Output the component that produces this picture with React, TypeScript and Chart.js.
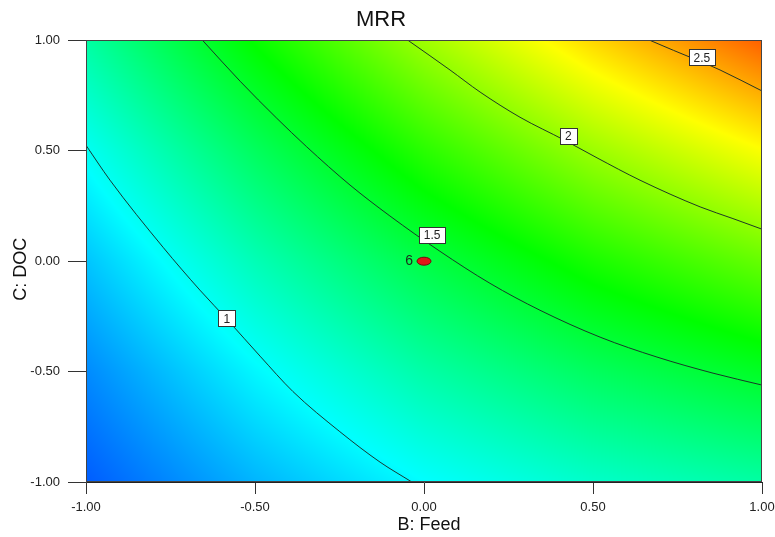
import React, { useEffect, useRef } from 'react';
import { Chart, registerables } from 'chart.js';

Chart.register(...registerables);

// ---- data ----
const gridX = [-1, -0.5, 0, 0.5, 1];
const gridY = [-1, -0.5, 0, 0.5, 1];
// MRR values, rows follow gridY (bottom to top), columns follow gridX
const mrrRowYm1 = [0.54, 0.77, 0.96, 1.10, 1.20];
const mrrRowYm05 = [0.66, 0.945, 1.19, 1.38, 1.53];
const mrrRowY0 = [0.81, 1.15, 1.44, 1.69, 1.89];
const mrrRowY05 = [0.99, 1.38, 1.73, 2.03, 2.28];
const mrrRowY1 = [1.20, 1.64, 2.04, 2.39, 2.70];

const contour1 = [
  { x: -1, y: 0.525 }, { x: -0.929, y: 0.367 }, { x: -0.772, y: 0.063 },
  { x: -0.663, y: -0.131 }, { x: -0.58, y: -0.268 },
  { x: -0.485, y: -0.43 }, { x: -0.388, y: -0.59 }, { x: -0.249, y: -0.772 },
  { x: -0.13, y: -0.91 }, { x: -0.036, y: -1 },
];
const contour15 = [
  { x: -0.655, y: 1 }, { x: -0.544, y: 0.815 }, { x: -0.436, y: 0.648 },
  { x: -0.347, y: 0.518 }, { x: -0.219, y: 0.345 }, { x: -0.101, y: 0.205 },
  { x: 0.047, y: 0.045 }, { x: 0.195, y: -0.1 }, { x: 0.343, y: -0.222 },
  { x: 0.521, y: -0.344 }, { x: 0.689, y: -0.434 }, { x: 0.855, y: -0.507 },
  { x: 1, y: -0.561 },
];
const contour2 = [
  { x: -0.047, y: 1 }, { x: 0.077, y: 0.866 }, { x: 0.166, y: 0.766 },
  { x: 0.284, y: 0.652 }, { x: 0.417, y: 0.547 }, { x: 0.512, y: 0.468 },
  { x: 0.639, y: 0.367 }, { x: 0.817, y: 0.246 }, { x: 0.914, y: 0.193 },
  { x: 1, y: 0.145 },
];
const contour25 = [
  { x: 0.669, y: 1 }, { x: 0.738, y: 0.955 }, { x: 0.822, y: 0.902 },
  { x: 0.876, y: 0.866 }, { x: 1, y: 0.771 },
];

const contourLabels = ['1', '1.5', '2', '2.5'];
const contourLabelX = [-0.583, 0.024, 0.427, 0.822];
const contourLabelY = [-0.259, 0.119, 0.568, 0.923];

const designPoints = [{ x: 0, y: 0 }];
const designCounts = ['6'];

const xTickValues = [-1, -0.5, 0, 0.5, 1];
const yTickValues = [-1, -0.5, 0, 0.5, 1];

const xAxisTitle = 'B: Feed';
const yAxisTitle = 'C: DOC';

// colour scale: blue -> cyan -> green -> yellow -> red
const colorStops = [
  [0, 0, 255],
  [0, 255, 255],
  [0, 255, 0],
  [255, 255, 0],
  [255, 0, 0],
];
const colorMin = 0.3;
const colorMax = 2.95;

const mrrGrid = [mrrRowYm1, mrrRowYm05, mrrRowY0, mrrRowY05, mrrRowY1];

function findCell(arr: number[], v: number) {
  let i = 0;
  while (i < arr.length - 2 && v > arr[i + 1]) i++;
  const t = (v - arr[i]) / (arr[i + 1] - arr[i]);
  return [i, Math.max(0, Math.min(1, t))];
}

function sample(vx: number, vy: number) {
  const [i, tx] = findCell(gridX, vx);
  const [j, ty] = findCell(gridY, vy);
  const a = mrrGrid[j][i], b = mrrGrid[j][i + 1];
  const c = mrrGrid[j + 1][i], d = mrrGrid[j + 1][i + 1];
  return (a * (1 - tx) + b * tx) * (1 - ty) + (c * (1 - tx) + d * tx) * ty;
}

function colorFor(v: number) {
  let t = (v - colorMin) / (colorMax - colorMin);
  t = Math.max(0, Math.min(1, t));
  const seg = t * (colorStops.length - 1);
  const k = Math.min(colorStops.length - 2, Math.floor(seg));
  const f = seg - k;
  const c0 = colorStops[k], c1 = colorStops[k + 1];
  return [
    c0[0] + (c1[0] - c0[0]) * f,
    c0[1] + (c1[1] - c0[1]) * f,
    c0[2] + (c1[2] - c0[2]) * f,
  ];
}

const FONT = '"Liberation Sans", Arial, sans-serif';

const heatPlugin = {
  id: 'heatmap',
  beforeDatasetsDraw(chart: any) {
    const { ctx, chartArea: a, scales } = chart;
    const xs = scales.x, ys = scales.y;
    const w = Math.round(a.right - a.left);
    const h = Math.round(a.bottom - a.top);
    const off = document.createElement('canvas');
    off.width = w; off.height = h;
    const octx = off.getContext('2d')!;
    const img = octx.createImageData(w, h);
    for (let j = 0; j < h; j++) {
      const vy = ys.getValueForPixel(a.top + j + 0.5);
      for (let i = 0; i < w; i++) {
        const vx = xs.getValueForPixel(a.left + i + 0.5);
        const [r, g, b] = colorFor(sample(vx, vy));
        const p = (j * w + i) * 4;
        img.data[p] = r; img.data[p + 1] = g; img.data[p + 2] = b; img.data[p + 3] = 255;
      }
    }
    octx.putImageData(img, 0, 0);
    ctx.save();
    ctx.drawImage(off, a.left, a.top);
    ctx.restore();
  },
  afterDatasetsDraw(chart: any) {
    const { ctx, chartArea: a, scales } = chart;
    const xs = scales.x, ys = scales.y;
    ctx.save();
    // contour labels
    ctx.font = `12px ${FONT}`;
    ctx.textAlign = 'center';
    ctx.textBaseline = 'middle';
    contourLabels.forEach((txt, k) => {
      const px = xs.getPixelForValue(contourLabelX[k]);
      const py = ys.getPixelForValue(contourLabelY[k]);
      const tw = ctx.measureText(txt).width;
      const bw = Math.max(17, tw + 9), bh = 16;
      const bx = Math.round(px - bw / 2) + 0.5, by = Math.round(py - bh / 2) + 0.5;
      ctx.fillStyle = '#ffffff';
      ctx.fillRect(bx, by, Math.round(bw), bh);
      ctx.strokeStyle = '#333333';
      ctx.lineWidth = 1;
      ctx.strokeRect(bx, by, Math.round(bw), bh);
      ctx.fillStyle = '#222222';
      ctx.fillText(txt, px, py + 1);
    });
    // design points
    const meta = chart.getDatasetMeta(4);
    meta.data.forEach((el: any, k: number) => {
      ctx.beginPath();
      ctx.ellipse(el.x, el.y, 7, 4, 0, 0, Math.PI * 2);
      ctx.fillStyle = '#e01818';
      ctx.fill();
      ctx.strokeStyle = '#701010';
      ctx.lineWidth = 1;
      ctx.stroke();
      ctx.font = `14px ${FONT}`;
      ctx.textAlign = 'right';
      ctx.textBaseline = 'middle';
      ctx.fillStyle = '#1a2a1a';
      ctx.fillText(designCounts[k], el.x - 11, el.y);
    });
    // frame
    ctx.strokeStyle = '#444444';
    ctx.lineWidth = 1;
    ctx.strokeRect(Math.round(a.left) + 0.5, Math.round(a.top) + 0.5, Math.round(a.right - a.left) - 1, Math.round(a.bottom - a.top) - 1);

    // axis titles (placed as in the reference, slightly off-centre)
    ctx.font = `18px ${FONT}`;
    ctx.fillStyle = '#111111';
    ctx.textAlign = 'center';
    ctx.textBaseline = 'middle';
    ctx.fillText(xAxisTitle, (a.left + a.right) / 2 + 5, a.bottom + 43);
    ctx.translate(21, (a.top + a.bottom) / 2 + 8);
    ctx.rotate(-Math.PI / 2);
    ctx.fillText(yAxisTitle, 0, 0);
    ctx.restore();
  },
};

const lineStyle = {
  showLine: true,
  borderColor: 'rgba(25,45,40,0.95)',
  borderWidth: 1,
  pointRadius: 0,
  pointHoverRadius: 0,
  cubicInterpolationMode: 'monotone',
  fill: false,
};

export default function App() {
  const ref = useRef<HTMLCanvasElement>(null);
  useEffect(() => {
    if (!ref.current) return;
    const chart = new Chart(ref.current, {
      type: 'scatter',
      data: {
        datasets: [
          { label: '1', data: contour1, ...lineStyle },
          { label: '1.5', data: contour15, ...lineStyle },
          { label: '2', data: contour2, ...lineStyle },
          { label: '2.5', data: contour25, ...lineStyle },
          { label: 'Design points', data: designPoints, pointRadius: 0, showLine: false },
        ],
      } as any,
      options: {
        responsive: false,
        animation: false,
        events: [],
        layout: { padding: { left: 0, right: 13, top: 0, bottom: 0 } },
        plugins: {
          legend: { display: false },
          tooltip: { enabled: false },
          title: {
            display: true,
            text: 'MRR',
            color: '#111111',
            font: { family: FONT, size: 22, weight: 'normal' },
            padding: { top: 7, bottom: 7 },
          },
        },
        scales: {
          x: {
            type: 'linear',
            min: -1,
            max: 1,
            afterBuildTicks: (s: any) => { s.ticks = xTickValues.map((v) => ({ value: v })); },
            afterFit: (s: any) => { s.height = 55; s.paddingLeft = 0; s.paddingRight = 0; },
            ticks: {
              callback: (v: any) => Number(v).toFixed(2),
              font: { family: FONT, size: 13 },
              color: '#222222',
              padding: 6,
              maxRotation: 0,
              autoSkip: false,
            },
            grid: { drawOnChartArea: false, drawTicks: true, tickLength: 12, color: '#333333' },
            border: { display: true, color: '#222222' },
            title: { display: false },
          },
          y: {
            type: 'linear',
            min: -1,
            max: 1,
            afterBuildTicks: (s: any) => { s.ticks = yTickValues.map((v) => ({ value: v })); },
            afterFit: (s: any) => { s.width = 86; s.paddingTop = 0; s.paddingBottom = 0; },
            ticks: {
              callback: (v: any) => Number(v).toFixed(2),
              font: { family: FONT, size: 13 },
              color: '#222222',
              padding: 8,
              autoSkip: false,
            },
            grid: { drawOnChartArea: false, drawTicks: true, tickLength: 18, color: '#333333' },
            border: { display: true, color: '#444444' },
            title: { display: false },
          },
        },
      } as any,
      plugins: [heatPlugin],
    });
    return () => chart.destroy();
  }, []);
  return (
    <div style={{ position: 'fixed', left: 0, top: 0, width: 775, height: 537, background: '#ffffff' }}>
      <canvas ref={ref} width={775} height={537} />
    </div>
  );
}
